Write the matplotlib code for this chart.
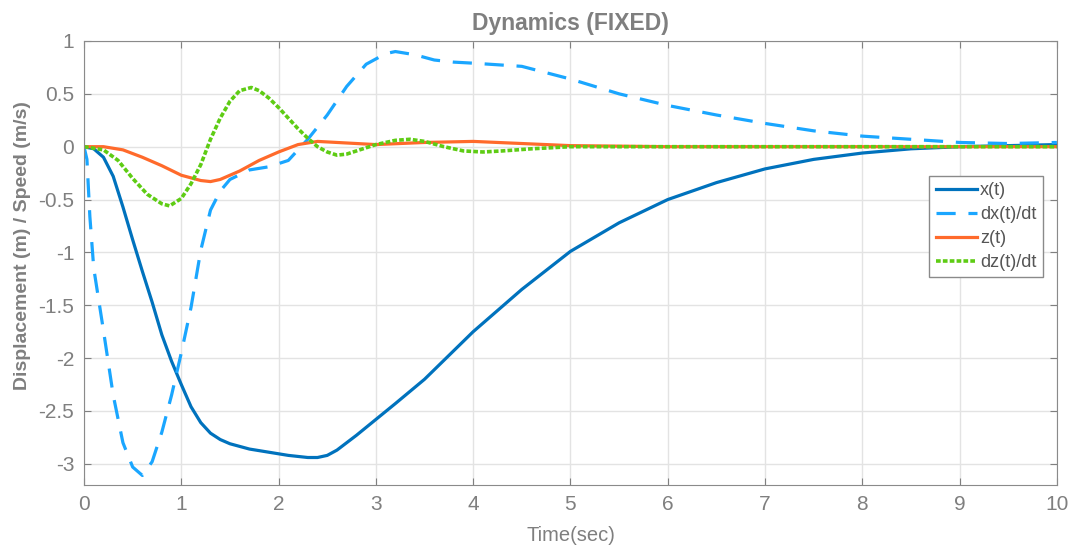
import matplotlib.pyplot as plt

# ---- values ----
t_x = [0, 0.1, 0.2, 0.3, 0.4, 0.5, 0.6, 0.7, 0.8, 0.9, 1.0, 1.1, 1.2, 1.3, 1.4, 1.5,
       1.7, 1.9, 2.1, 2.3, 2.4, 2.5, 2.6, 2.8, 3.0, 3.2, 3.5, 4.0, 4.5, 5.0, 5.5,
       6.0, 6.5, 7.0, 7.5, 8.0, 8.5, 9.0, 9.5, 10]
x_t = [0, -0.02, -0.1, -0.28, -0.57, -0.88, -1.18, -1.47, -1.78, -2.03, -2.25,
       -2.46, -2.61, -2.71, -2.77, -2.81, -2.86, -2.89, -2.92, -2.94, -2.94, -2.92,
       -2.87, -2.73, -2.58, -2.43, -2.2, -1.75, -1.35, -0.99, -0.72, -0.5, -0.34,
       -0.21, -0.12, -0.06, -0.02, 0.0, 0.01, 0.02]

t_dx = [0, 0.03, 0.06, 0.1, 0.2, 0.3, 0.4, 0.5, 0.6, 0.7, 0.8, 0.9, 1.0, 1.1, 1.2,
        1.3, 1.4, 1.5, 1.7, 1.9, 2.1, 2.3, 2.5, 2.7, 2.9, 3.1, 3.2, 3.4, 3.6, 3.8,
        4.0, 4.5, 5.0, 5.5, 6.0, 6.5, 7.0, 7.5, 8.0, 8.5, 9.0, 9.5, 10]
dx_t = [0, -0.12, -0.66, -1.15, -1.74, -2.35, -2.8, -3.03, -3.11, -2.98, -2.7,
        -2.35, -1.95, -1.52, -0.98, -0.6, -0.42, -0.31, -0.22, -0.19, -0.13, 0.07,
        0.3, 0.57, 0.78, 0.88, 0.9, 0.87, 0.82, 0.8, 0.79, 0.76, 0.64, 0.5, 0.39,
        0.3, 0.22, 0.15, 0.1, 0.07, 0.04, 0.03, 0.04]

t_z = [0, 0.2, 0.4, 0.6, 0.8, 1.0, 1.2, 1.3, 1.4, 1.6, 1.8, 2.0, 2.2, 2.4, 2.6,
       2.8, 3.0, 3.5, 4.0, 4.5, 5.0, 6.0, 7.0, 8.0, 9.0, 10]
z_t = [0, 0.0, -0.03, -0.1, -0.18, -0.27, -0.32, -0.33, -0.31, -0.23, -0.13,
       -0.05, 0.02, 0.05, 0.04, 0.03, 0.02, 0.04, 0.05, 0.03, 0.01, 0.0, 0.0, 0.0,
       0.0, 0.0]

t_dz = [0, 0.2, 0.35, 0.5, 0.65, 0.8, 0.88, 1.0, 1.1, 1.2, 1.3, 1.4, 1.5, 1.6,
        1.72, 1.8, 1.9, 2.0, 2.1, 2.2, 2.3, 2.4, 2.5, 2.6, 2.7, 2.8, 2.9, 3.0, 3.2,
        3.35, 3.5, 3.7, 3.9, 4.1, 4.3, 4.6, 5.0, 6.0, 7.0, 8.0, 9.0, 10]
dz_t = [0, -0.03, -0.13, -0.3, -0.45, -0.54, -0.56, -0.49, -0.35, -0.17, 0.07,
        0.27, 0.43, 0.53, 0.56, 0.53, 0.46, 0.37, 0.27, 0.17, 0.08, 0.0, -0.05,
        -0.08, -0.07, -0.04, -0.01, 0.02, 0.06, 0.07, 0.05, 0.0, -0.04, -0.05,
        -0.04, -0.02, 0.0, 0.0, 0.0, 0.0, 0.0, 0.0]

xticks = list(range(0, 11))
yticks = [-3, -2.5, -2, -1.5, -1, -0.5, 0, 0.5, 1]
ytick_labels = ['-3', '-2.5', '-2', '-1.5', '-1', '-0.5', '0', '0.5', '1']

grey = '#7f7f7f'
plt.rcParams['font.family'] = ['Liberation Sans', 'DejaVu Sans']

fig = plt.figure(figsize=(10.73, 5.5), dpi=100)
ax = fig.add_axes([0.0783, 0.1182, 0.9067, 0.8073])

ax.plot(t_x, x_t, color='#0072BD', lw=2.3, label='x(t)')
ax.plot(t_dx, dx_t, color='#1AA6FF', lw=2.3, dashes=(6, 4), label='dx(t)/dt')
ax.plot(t_z, z_t, color='#FF6A2B', lw=2.3, label='z(t)')
ax.plot(t_dz, dz_t, color='#5ECC14', lw=2.6, dashes=(1.3, 0.6), label='dz(t)/dt')

ax.set_xlim(0, 10)
ax.set_ylim(-3.2, 1)
ax.set_xticks(xticks)
ax.set_yticks(yticks)
ax.set_yticklabels(ytick_labels)
ax.grid(True, color='#e3e3e3', lw=1)
ax.set_axisbelow(True)
ax.tick_params(direction='in', top=True, right=True, colors='#808080',
               labelcolor=grey, labelsize=15, length=5, pad=7)
for s in ax.spines.values():
    s.set_color('#8a8a8a')

ax.set_title('Dynamics (FIXED)', color=grey, fontsize=16.5, fontweight='bold', pad=8)
ax.set_xlabel('Time(sec)', color=grey, fontsize=14.5, labelpad=9)
ax.set_ylabel('Displacement (m) / Speed (m/s)', color=grey, fontsize=14,
              fontweight='bold', labelpad=4)
ax.yaxis.set_label_coords(-0.055, 0.54)

leg = ax.legend(loc='upper left', bbox_to_anchor=(0.869, 0.696), fontsize=13,
                frameon=True, fancybox=False, framealpha=1, handlelength=2.3,
                handletextpad=0.15, labelspacing=0.38, borderpad=0.35,
                borderaxespad=0)
leg.get_frame().set_edgecolor('#8a8a8a')
for txt in leg.get_texts():
    txt.set_color('#555555')

fig.savefig('out.png', dpi=100)
